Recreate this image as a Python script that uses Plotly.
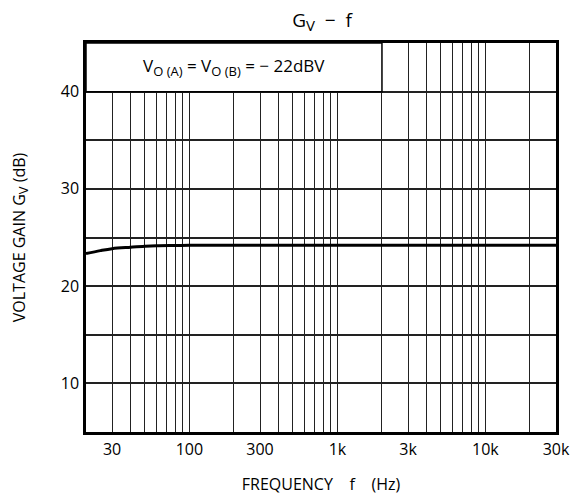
import plotly.graph_objects as go

# data
freq = [20, 25, 30, 40, 50, 60, 80, 100, 200, 500, 1000, 2000, 5000, 10000, 20000, 30000]
gain = [23.35, 23.65, 23.85, 24.0, 24.1, 24.15, 24.18, 24.2, 24.2, 24.2, 24.2, 24.2, 24.2, 24.2, 24.2, 24.2]

x_grid = [m * 10 ** e for e in range(1, 5) for m in range(1, 10)]
x_grid = [v for v in x_grid if 20 <= v <= 30000]
x_labels = {30: "30", 100: "100", 300: "300", 1000: "1k", 3000: "3k", 10000: "10k", 30000: "30k"}
y_grid = [10, 15, 20, 25, 30, 35, 40]
y_labels = {10: "10", 20: "20", 30: "30", 40: "40"}

FONT = "Open Sans"
SUB = "<sub><span style='font-size:13px'>{}</span></sub>"

fig = go.Figure()
fig.add_trace(go.Scatter(x=freq, y=gain, mode="lines", line=dict(color="black", width=3, shape="spline"),
                         showlegend=False, hoverinfo="skip"))

fig.add_shape(type="rect", x0=20, x1=2000, y0=40, y1=45, xref="x", yref="y",
              fillcolor="white", line=dict(color="black", width=1.5), layer="between")
fig.add_annotation(x=0.5 * (1.3010 + 3.3010), y=42.5, xref="x", yref="y",
                   text="V" + SUB.format("O (A)") + " = V" + SUB.format("O (B)") + " = − 22dBV",
                   showarrow=False,
                   font=dict(size=17, color="black", family=FONT))

fig.update_layout(
    width=573, height=500,
    margin=dict(l=86, r=17, t=43, b=68),
    paper_bgcolor="white", plot_bgcolor="white",
    font=dict(family=FONT, size=16, color="black"),
    title=dict(text="G" + "<sub><span style='font-size:15px'>V</span></sub>" + "  −  f",
               x=0.562, xanchor="center", y=0.972, yanchor="top", xref="container",
               font=dict(size=19, family=FONT, color="black")),
    xaxis=dict(type="log", range=[1.30103, 4.4771], tickvals=x_grid,
               ticktext=[x_labels.get(v, "") for v in x_grid],
               showgrid=True, gridcolor="#222", gridwidth=1, ticks="", automargin=False,
               showline=True, linecolor="black", linewidth=2.5, mirror=True,
               tickfont=dict(size=16), ticklabelstandoff=1,
               title=dict(text="FREQUENCY\u00a0\u00a0\u00a0\u00a0f\u00a0\u00a0\u00a0\u00a0(Hz)",
                          standoff=20, font=dict(size=16))),
    yaxis=dict(range=[5, 45], tickvals=y_grid, ticktext=[y_labels.get(v, "") for v in y_grid],
               showgrid=True, gridcolor="#222", gridwidth=1.5, ticks="", zeroline=False, automargin=False,
               showline=True, linecolor="black", linewidth=2.5, mirror=True,
               tickfont=dict(size=16), ticklabelstandoff=1,
               title=dict(text="VOLTAGE GAIN G" + "<sub><span style='font-size:13px'>V</span></sub>" + " (dB)",
                          standoff=32, font=dict(size=16))),
)

fig.write_html("out.html")
